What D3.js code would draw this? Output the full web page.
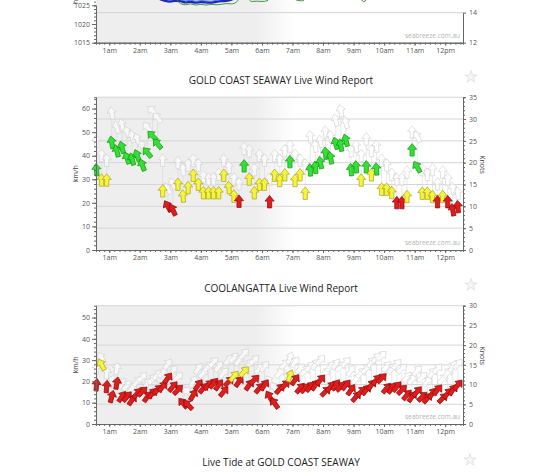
<!DOCTYPE html>
<html>
<head>
<meta charset="utf-8">
<script src="https://cdn.jsdelivr.net/npm/d3@7"></script>
<style>
body { margin: 0; background: #fff; }
svg { display: block; font-family: "Open Sans", sans-serif; }
</style>
</head>
<body>
<svg id="chart" width="559" height="472"></svg>
<script>
// ---- data ----
// 10 minute readings, 00:35 to 12:25
var obsTimes = ["00:35","00:45","00:55","01:05","01:15","01:25","01:35","01:45","01:55","02:05",
  "02:15","02:25","02:35","02:45","02:55","03:05","03:15","03:25","03:35","03:45",
  "03:55","04:05","04:15","04:25","04:35","04:45","04:55","05:05","05:15","05:25",
  "05:35","05:45","05:55","06:05","06:15","06:25","06:35","06:45","06:55","07:05",
  "07:15","07:25","07:35","07:45","07:55","08:05","08:15","08:25","08:35","08:45",
  "08:55","09:05","09:15","09:25","09:35","09:45","09:55","10:05","10:15","10:25",
  "10:35","10:45","10:55","11:05","11:15","11:25","11:35","11:45","11:55","12:05",
  "12:15","12:25"];

var hourTicks = ["01:00","02:00","03:00","04:00","05:00","06:00","07:00","08:00","09:00","10:00","11:00","12:00"];
var hourLabels = ["1am","2am","3am","4am","5am","6am","7am","8am","9am","10am","11am","12pm"];

// Gold Coast Seaway - km/h
var gcSpeed = [34, 29.6, 29.6, 45.6, 42, 43.5, 39, 38.5, 40, 36,
  41.3, 48.4, 45, 25, 18.5, 17, 27.8, 22.8, 26.4, 31.6,
  27.8, 24.2, 24.2, 24.2, 24.2, 31.6, 26.4, 22.8, 20.6, 35.6,
  30, 24.2, 27.8, 27.8, 20.4, 31.6, 29.4, 31.8, 37.4, 29.4,
  31.8, 24, 33.9, 35, 37, 41, 39, 45.2, 44.4, 46.5,
  34, 35.2, 29.6, 35.2, 31.8, 34.3, 25.7, 25.7, 24.3, 20,
  20, 22.6, 42.4, 35.2, 24, 24, 22.6, 20.4, 22.6, 20.4,
  17, 18.3];
var gcGust = [46, 40, 38, 58, 52, 53, 50, 48, 47, 44,
  52, 59, 56, 38, 26, 28, 37, 34, 36, 38,
  36, 31, 30, 30, 32, 38, 35, 30, 28, 43,
  42, 34, 40, 38, 30, 40, 38, 42, 44, 40,
  38, 36, 48, 44, 46, 50, 48, 55, 59, 54,
  42, 44, 40, 47, 42, 44, 38, 36, 32, 30,
  30, 33, 50, 48, 34, 32, 34, 28, 33, 30,
  26, 24];
var gcDir = [175, 180, 180, 170, 165, 165, 160, 165, 160, 160,
  140, 135, 140, 180, 150, 155, 180, 175, 180, 180,
  180, 180, 180, 180, 180, 180, 175, 180, 180, 180,
  180, 180, 180, 180, 180, 180, 180, 180, 180, 180,
  180, 180, 175, 175, 170, 175, 170, 165, 170, 165,
  175, 175, 180, 180, 180, 175, 180, 180, 180, 180,
  180, 180, 180, 150, 180, 180, 180, 180, 180, 180,
  170, 175];

// Coolangatta - km/h
var ccSpeed = [18.3, 27.8, 17.5, 12.8, 19.1, 12.8, 12.8, 11.3, 14.4, 15.2,
  12.8, 14.4, 16, 17.5, 21.5, 17.5, 16, 9.7, 8.9, 13.6,
  18.3, 16.8, 18.3, 19.1, 18.3, 15.2, 19.9, 22.4, 19.9, 24.6,
  18.3, 20.7, 16.8, 18.3, 12.8, 9.7, 16.5, 18.3, 22.6, 20.7,
  16.8, 16.8, 17.5, 18.3, 20.7, 15.2, 17.5, 18.3, 17.5, 18.3,
  16, 12.8, 15.2, 16, 18.3, 20.7, 21.5, 16.8, 16.8, 17.5,
  16, 13.6, 12.8, 15.2, 12.8, 12.1, 14.4, 16, 12.1, 14.4,
  16, 18.3];
var ccGust = [26, 31, 24, 20, 26, 19, 18, 17, 20, 22,
  19, 21, 23, 24, 28, 25, 22, 16, 15, 20,
  26, 24, 27, 29, 27, 24, 30, 31, 30, 33,
  28, 30, 26, 27, 20, 17, 24, 28, 31, 29,
  26, 25, 27, 28, 30, 24, 27, 28, 27, 29,
  25, 21, 24, 26, 29, 31, 32, 27, 26, 28,
  26, 22, 21, 25, 22, 20, 24, 26, 21, 24,
  27, 28];
var ccDir = [185, 150, 185, 195, 190, 215, 220, 215, 220, 225,
  215, 220, 225, 220, 215, 220, 225, 140, 135, 210,
  215, 220, 225, 220, 215, 220, 225, 220, 215, 220,
  215, 225, 220, 215, 150, 145, 220, 225, 200, 215,
  220, 225, 220, 215, 220, 225, 220, 215, 225, 220,
  215, 220, 225, 220, 215, 220, 225, 220, 215, 220,
  225, 220, 215, 220, 225, 220, 215, 220, 225, 220,
  215, 220];

// top (cut off) chart: two temperature traces, only their lowest dips show
var blueTimes = ["02:20","02:30","02:40","02:50","03:00","03:10","03:20","03:30","03:40","03:50","04:00","04:10","04:20","04:30","04:40","04:50","05:00","05:10","05:20"];
var blueVals = [15.6, 15.1, 14.9, 14.78, 14.74, 14.78, 14.76, 14.68, 14.72, 14.66, 14.7, 14.68, 14.66, 14.72, 14.76, 14.78, 14.86, 15.05, 15.5];
var greenTimes = ["03:00","03:10","03:20","03:30","03:40","03:50","04:00","04:10","04:20","04:30","04:40","04:50","05:00","05:10","05:20","05:30","05:40","05:50","06:00","06:10","06:20","06:40","07:00","07:10","07:20","07:30","07:50","08:30","09:10","09:20","09:30","09:50"];
var greenVals = [15.6, 15.0, 14.6, 14.52, 14.58, 14.5, 14.55, 14.5, 14.55, 14.52, 14.55, 14.6, 14.58, 14.7, 15.1, 15.0, 14.74, 14.76, 14.74, 14.78, 15.2, 15.5, 15.1, 14.8, 14.78, 15.1, 15.5, 15.5, 15.1, 14.72, 15.1, 15.6];

// ---- setup ----
var parseT = d3.timeParse("%H:%M");
var svg = d3.select("#chart");
var x = d3.scaleTime().domain([parseT("00:34"), parseT("12:35")]).range([96, 463]);
var plotL = 96, plotR = 463;
var KNOT = 1.852;

var ARROW = "M0,-6.5L4.6,-0.8L2.1,-0.8L2.1,6L-2.1,6L-2.1,-0.8L-4.6,-0.8Z";

function speedColour(kmh) {
  if (kmh < 22) return {fill: "#e01c1c", stroke: "#8a0b0b"};
  if (kmh < 33.3) return {fill: "#f6f43c", stroke: "#a9a51c"};
  return {fill: "#35e035", stroke: "#149414"};
}

// night shading fades out after sunrise
var defs = svg.append("defs");
var grad = defs.append("linearGradient")
  .attr("id", "night")
  .attr("gradientUnits", "userSpaceOnUse")
  .attr("x1", x(parseT("05:48"))).attr("x2", x(parseT("07:05")))
  .attr("y1", 0).attr("y2", 0);
grad.append("stop").attr("offset", 0).attr("stop-color", "#eeeeee");
grad.append("stop").attr("offset", 1).attr("stop-color", "#ffffff");

function styleAxis(sel) {
  sel.select(".domain").attr("stroke", "#666");
  sel.selectAll(".tick line").attr("stroke", "#666");
  sel.selectAll(".tick text").attr("fill", "#555").style("font-size", "7px").style("font-family", "Open Sans");
}

function xAxis(g, y0) {
  var minor = g.append("g").attr("transform", "translate(0," + y0 + ")")
    .call(d3.axisBottom(x).ticks(d3.timeMinute.every(10)).tickSize(2).tickFormat(""));
  styleAxis(minor);
  var ax = g.append("g").attr("transform", "translate(0," + y0 + ")")
    .call(d3.axisBottom(x)
      .tickValues(hourTicks.map(parseT))
      .tickFormat(function(d, i) { return hourLabels[i]; })
      .tickSize(3).tickPadding(2).tickSizeOuter(0));
  styleAxis(ax);
}

function star(cx, cy) {
  svg.append("path")
    .attr("d", d3.symbol(d3.symbolStar).size(45)())
    .attr("transform", "translate(" + cx + "," + cy + ")")
    .attr("fill", "#f6f6f6").attr("stroke", "#dddddd").attr("stroke-width", 0.8);
}

function title(txt, cy) {
  svg.append("text").attr("x", 281).attr("y", cy + 3.5)
    .attr("text-anchor", "middle").attr("fill", "#222")
    .style("font-size", "10px").text(txt);
}

function watermark(y) {
  svg.append("text").attr("x", 460).attr("y", y)
    .attr("text-anchor", "end").attr("fill", "#b4b4b4")
    .style("font-size", "6.5px").text("seabreeze.com.au");
}

// ---- top chart (mostly scrolled off) ----
(function() {
  var bottom = 42.7, top = -80;
  var yP = d3.scaleLinear().domain([1015, 1025]).range([bottom, 5.3]);
  var yT = d3.scaleLinear().domain([12, 14]).range([bottom, 12.6]);
  var g = svg.append("g");
  g.append("rect").attr("x", plotL).attr("y", top).attr("width", plotR - plotL)
    .attr("height", bottom - top).attr("fill", "url(#night)");
  g.selectAll(".grid").data([14, 16]).join("line")
    .attr("x1", plotL).attr("x2", plotR)
    .attr("y1", function(d) { return yT(d); }).attr("y2", function(d) { return yT(d); })
    .attr("stroke", "#d4d4d4").attr("stroke-width", 1);

  var line = d3.line().x(function(d) { return x(d[0]); }).y(function(d) { return yT(d[1]); }).curve(d3.curveMonotoneX);
  var blue = blueTimes.map(function(t, i) { return [parseT(t), blueVals[i]]; });
  var green = greenTimes.map(function(t, i) { return [parseT(t), greenVals[i]]; });
  g.append("path").attr("d", line(blue)).attr("fill", "none").attr("stroke", "#1d2bb0").attr("stroke-width", 2.4);
  g.append("path").attr("d", line(blue)).attr("fill", "none").attr("stroke", "#4f72e6").attr("stroke-width", 1)
    .attr("transform", "translate(0,-1.5)");
  g.append("path").attr("d", line(green)).attr("fill", "none").attr("stroke", "#2f8a2f").attr("stroke-width", 0.9);

  var minorL = g.append("g").attr("transform", "translate(" + plotL + ",0)")
    .call(d3.axisLeft(yP).tickValues(d3.range(1015, 1031, 1)).tickSize(2).tickFormat(""));
  styleAxis(minorL);
  var axL = g.append("g").attr("transform", "translate(" + plotL + ",0)")
    .call(d3.axisLeft(yP).tickValues([1015, 1020, 1025]).tickFormat(d3.format("d"))
      .tickSize(4).tickPadding(2).tickSizeOuter(0));
  styleAxis(axL);
  var axR = g.append("g").attr("transform", "translate(" + plotR + ",0)")
    .call(d3.axisRight(yT).tickValues([12, 14]).tickFormat(d3.format("d"))
      .tickSize(3).tickPadding(3).tickSizeOuter(0));
  styleAxis(axR);
  xAxis(g, bottom);
  g.append("text").attr("transform", "translate(78,4) rotate(-90)")
    .attr("fill", "#444").style("font-size", "7px").text("hPa");
  watermark(38);
})();

// ---- wind report panels ----
function windPanel(p) {
  var g = svg.append("g");
  var yKn = d3.scaleLinear().domain([0, p.maxKnots]).range([p.bottom, p.top]);
  var yKm = d3.scaleLinear().domain([0, p.maxKnots * KNOT]).range([p.bottom, p.top]);

  title(p.title, p.titleY);
  star(471, p.titleY - 3);

  g.append("rect").attr("x", plotL).attr("y", p.top).attr("width", plotR - plotL)
    .attr("height", p.bottom - p.top).attr("fill", "url(#night)");
  g.selectAll(".grid").data(d3.range(5, p.maxKnots + 1, 5)).join("line")
    .attr("x1", plotL).attr("x2", plotR)
    .attr("y1", function(d) { return yKn(d); }).attr("y2", function(d) { return yKn(d); })
    .attr("stroke", "#d6d6d6").attr("stroke-width", 1);

  watermark(p.bottom - 5);

  var pts = obsTimes.map(function(t, i) {
    return {t: parseT(t), speed: p.speed[i], gust: p.gust[i], dir: p.dir[i]};
  });

  // gusts: faint outlined arrows with a stem down to the mean
  g.selectAll(".stem").data(pts).join("line")
    .attr("x1", function(d) { return x(d.t); }).attr("x2", function(d) { return x(d.t); })
    .attr("y1", function(d) { return yKm(d.speed) - 5; })
    .attr("y2", function(d) { return yKm(d.gust) + 5; })
    .attr("stroke", "#d8d8d8").attr("stroke-width", 0.6);
  g.selectAll(".gust").data(pts).join("path")
    .attr("d", ARROW)
    .attr("transform", function(d) { return "translate(" + x(d.t) + "," + yKm(d.gust) + ") rotate(" + (d.dir - 180) + ")"; })
    .attr("fill", "#ffffff").attr("fill-opacity", 0.6)
    .attr("stroke", "#cfcfcf").attr("stroke-width", 0.6);

  // mean wind arrows
  g.selectAll(".wind").data(pts).join("path")
    .attr("d", ARROW)
    .attr("transform", function(d) { return "translate(" + x(d.t) + "," + yKm(d.speed) + ") rotate(" + (d.dir - 180) + ")"; })
    .attr("fill", function(d) { return speedColour(d.speed).fill; })
    .attr("stroke", function(d) { return speedColour(d.speed).stroke; })
    .attr("stroke-width", 0.7);

  var minorL = g.append("g").attr("transform", "translate(" + plotL + ",0)")
    .call(d3.axisLeft(yKm).tickValues(d3.range(0, p.maxKnots * KNOT, 2)).tickSize(2).tickFormat(""));
  styleAxis(minorL);
  var axL = g.append("g").attr("transform", "translate(" + plotL + ",0)")
    .call(d3.axisLeft(yKm).tickValues(p.kmTicks).tickSize(4).tickPadding(2).tickSizeOuter(0));
  styleAxis(axL);
  var minorR = g.append("g").attr("transform", "translate(" + plotR + ",0)")
    .call(d3.axisRight(yKn).tickValues(d3.range(0, p.maxKnots + 1, 1)).tickSize(2).tickFormat(""));
  styleAxis(minorR);
  var axR = g.append("g").attr("transform", "translate(" + plotR + ",0)")
    .call(d3.axisRight(yKn).tickValues(p.knTicks).tickSize(3).tickPadding(3).tickSizeOuter(0));
  styleAxis(axR);
  xAxis(g, p.bottom);

  g.append("text").attr("transform", "translate(78," + ((p.top + p.bottom) / 2) + ") rotate(-90)")
    .attr("text-anchor", "middle").attr("fill", "#444").style("font-size", "7px").text("km/h");
  g.append("text").attr("transform", "translate(480," + ((p.top + p.bottom) / 2 - 9) + ") rotate(90)")
    .attr("text-anchor", "middle").attr("fill", "#444").style("font-size", "7px").text("Knots");
}

windPanel({
  title: "GOLD COAST SEAWAY Live Wind Report", titleY: 80,
  top: 97.2, bottom: 250, maxKnots: 35,
  kmTicks: [0, 10, 20, 30, 40, 50, 60], knTicks: [0, 5, 10, 15, 20, 25, 30, 35],
  speed: gcSpeed, gust: gcGust, dir: gcDir
});

windPanel({
  title: "COOLANGATTA Live Wind Report", titleY: 288,
  top: 305.7, bottom: 424, maxKnots: 30,
  kmTicks: [0, 10, 20, 30, 40, 50], knTicks: [0, 5, 10, 15, 20, 25, 30],
  speed: ccSpeed, gust: ccGust, dir: ccDir
});

title("Live Tide at GOLD COAST SEAWAY", 462.5);
star(470, 460);
</script>
</body>
</html>
